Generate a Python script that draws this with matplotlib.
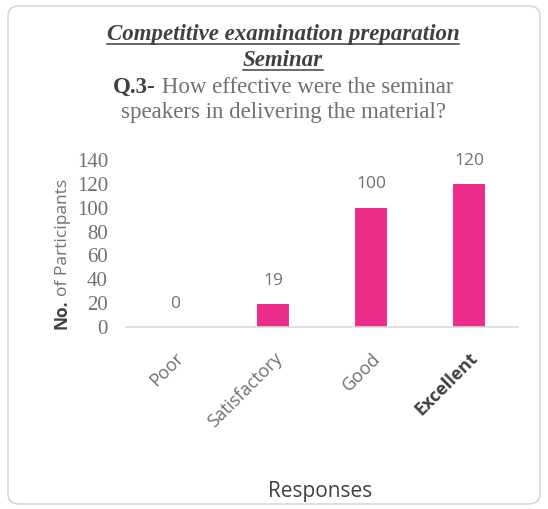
import matplotlib.pyplot as plt
from matplotlib.patches import FancyBboxPatch
from matplotlib.lines import Line2D

categories = ["Poor", "Satisfactory", "Good", "Excellent"]
participants = [0, 19, 100, 120]
y_ticks = [0, 20, 40, 60, 80, 100, 120, 140]

bar_color = "#EC2D8C"
gray = "#707070"
dark = "#404040"

fig = plt.figure(figsize=(5.48, 5.09), dpi=100)
W, H = 548, 509

# outer rounded border
fig.patches.append(FancyBboxPatch((8 / W, 5 / H), 532 / W, 498 / H,
                                  boxstyle="round,pad=0,rounding_size=0.02",
                                  transform=fig.transFigure, fill=False,
                                  edgecolor="#D0D0D0", linewidth=1.0))

ax = fig.add_axes([126 / W, (H - 327) / H, 392 / W, 167 / H])
x = range(len(categories))
bars = ax.bar(x, participants, width=0.33, color=bar_color, zorder=2)
ax.set_xlim(-0.5, 3.5)
ax.set_ylim(0, 140)
ax.set_yticks(y_ticks)
ax.set_yticklabels([str(t) for t in y_ticks], family="Liberation Serif", fontsize=15, color=gray)
ax.set_xticks(list(x))
ax.set_xticklabels(categories, rotation=45, ha="right", rotation_mode="anchor",
                   family="Open Sans", fontsize=13, color=gray)
ax.get_xticklabels()[3].set_fontweight("bold")
ax.get_xticklabels()[3].set_color(dark)
ax.tick_params(axis="both", length=0)
ax.tick_params(axis="y", pad=13)
ax.tick_params(axis="x", pad=16)
for s in ["top", "right", "left"]:
    ax.spines[s].set_visible(False)
ax.spines["bottom"].set_color("#D9D9D9")
ax.spines["bottom"].set_linewidth(1.2)

for xi, v in zip(x, participants):
    ax.annotate(str(v), (xi, v), xytext=(0, 11), textcoords="offset points",
                ha="center", va="bottom", family="Open Sans", fontsize=12.5, color=gray)

fig.canvas.draw()
r = fig.canvas.get_renderer()


def px_width(t):
    return t.get_window_extent(renderer=r).width


def underlined(txt, cx, y, **kw):
    t = fig.text(cx / W, 1 - y / H, txt, ha="center", va="baseline", **kw)
    w = px_width(t)
    fig.lines.append(Line2D([(cx - w / 2) / W, (cx + w / 2) / W],
                            [1 - (y + 4) / H] * 2, transform=fig.transFigure,
                            color=dark, linewidth=1.1))
    return t


serif = "Liberation Serif"
underlined("Competitive examination preparation", 283, 40, family=serif,
           fontsize=16.5, fontweight="bold", style="italic", color=dark)
underlined("Seminar", 283, 66, family=serif,
           fontsize=16.5, fontweight="bold", style="italic", color=dark)

# question line with bold prefix
t1 = fig.text(0, 1 - 93 / H, "Q.3-", ha="left", va="baseline", family=serif,
              fontsize=16.5, fontweight="bold", color=dark)
t2 = fig.text(0, 1 - 93 / H, " How effective were the seminar", ha="left", va="baseline",
              family=serif, fontsize=16.5, color=gray)
w1, w2 = px_width(t1), px_width(t2)
x0 = 283 - (w1 + w2) / 2
t1.set_x(x0 / W)
t2.set_x((x0 + w1) / W)
fig.text(284 / W, 1 - 118 / H, "speakers in delivering the material?", ha="center",
         va="baseline", family=serif, fontsize=16.5, color=gray)

# y label with bold "No."
y1 = fig.text(0, 0, "No.", rotation=90, rotation_mode="anchor", ha="left", va="baseline",
              family="Open Sans", fontsize=12.5, fontweight="bold", color=dark)
y2 = fig.text(0, 0, "of Participants", rotation=90, rotation_mode="anchor", ha="left",
              va="baseline", family="Open Sans", fontsize=12.5, color=gray)
h1 = y1.get_window_extent(renderer=r).height + 4
h2 = y2.get_window_extent(renderer=r).height
ybase = 255 - (h1 + h2) / 2
y1.set_position((67 / W, ybase / H))
y2.set_position((67 / W, (ybase + h1) / H))

fig.text(320 / W, 1 - 497 / H, "Responses", ha="center", va="baseline",
         family="Open Sans", fontsize=15, color=dark)

fig.savefig("out.png", dpi=100)
